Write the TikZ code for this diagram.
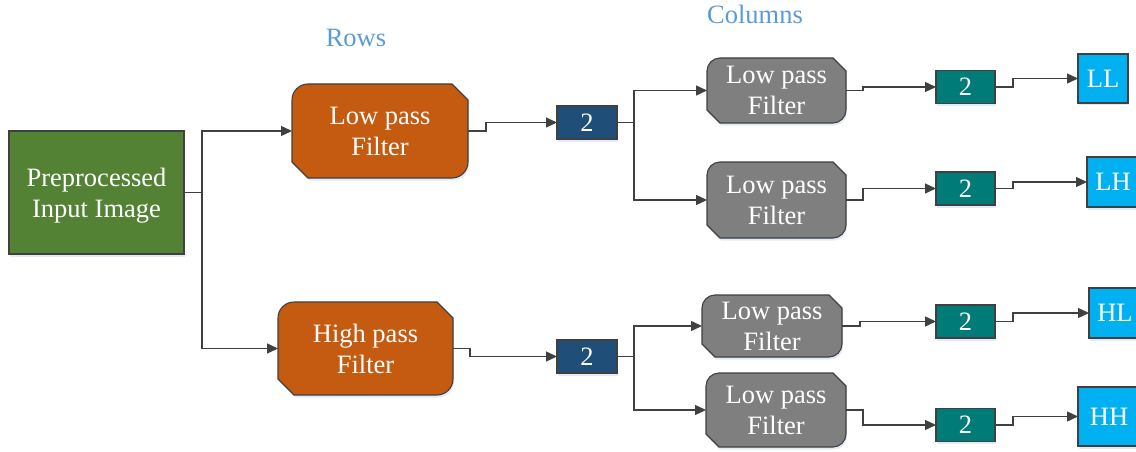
\documentclass[tikz,border=0pt]{standalone}
\usepackage{fontspec}
\setmainfont{Liberation Serif}
\usetikzlibrary{arrows.meta,shadows,calc}

\definecolor{lineGray}{HTML}{404040}
\definecolor{imgGreen}{HTML}{548235}
\definecolor{rowOrange}{HTML}{C55A11}
\definecolor{downBlue}{HTML}{1F4E79}
\definecolor{colGray}{HTML}{7F7F7F}
\definecolor{downTeal}{HTML}{007B78}
\definecolor{bandCyan}{HTML}{00B0F0}
\definecolor{labelBlue}{HTML}{5B9BD5}
\definecolor{shadowBlue}{HTML}{D6E3F3}

\tikzset{
  boxshadow/.style={drop shadow={shadow xshift=1pt,shadow yshift=-2.5pt,fill=shadowBlue,opacity=0.7}},
  plainbox/.style={rectangle,draw=lineGray,line width=1.1pt,inner sep=0pt,outer sep=0pt,
    text=white,font=\fontsize{26.5}{31}\selectfont,align=center,boxshadow},
  filtoutline/.style={draw=lineGray,line width=1.1pt,boxshadow},
  filttext/.style={rectangle,inner sep=0pt,outer sep=0pt,text=white,
    font=\fontsize{26.5}{31}\selectfont,align=center},
  wire/.style={draw=lineGray,line width=1.4pt},
  arrowwire/.style={wire,-{Triangle[length=11pt,width=10pt]}},
  headlabel/.style={text=labelBlue,font=\fontsize{26.5}{31}\selectfont,inner sep=0pt}
}

% filter block: top-left and bottom-right rounded, the other two corners cut
% #1 name, #2 x, #3 y, #4 width, #5 height, #6 corner size, #7 fill, #8 text
\newcommand\filterblock[8]{%
  \begin{scope}[shift={(#2,#3)}]
    \pgfmathsetmacro\hw{#4/2}\pgfmathsetmacro\hh{#5/2}%
    \pgfmathsetmacro\kk{0.45*#6}%
    \path[filtoutline,fill=#7]
      (-\hw,\hh-#6) -- (-\hw,-\hh+#6)
      .. controls (-\hw,-\hh+\kk) and (-\hw+\kk,-\hh) .. (-\hw+#6,-\hh)
      -- (\hw-#6,-\hh) -- (\hw,-\hh+#6) -- (\hw,\hh-#6)
      .. controls (\hw,\hh-\kk) and (\hw-\kk,\hh) .. (\hw-#6,\hh)
      -- (-\hw+#6,\hh) -- cycle;
  \end{scope}
  \node[filttext,minimum width=#4pt,minimum height=#5pt] (#1) at (#2,#3) {#8};
}

\begin{document}
\begin{tikzpicture}[x=1pt,y=-1pt]
\useasboundingbox (0,0) rectangle (1136,452);

% headings
\node[headlabel] (rows) at (356,38) {Rows};
\node[headlabel] (cols) at (755,14) {Columns};

% input image
\node[plainbox,fill=imgGreen,minimum width=175pt,minimum height=123pt] (img) at (96.5,192.5)
  {\raisebox{-3pt}[\height][\depth]{\begin{tabular}{@{}c@{}}Preprocessed\\Input Image\end{tabular}}};

% row filters
\filterblock{rlow}{380}{131}{176}{94}{16}{rowOrange}{Low pass\\Filter}
\filterblock{rhigh}{365.5}{348.5}{175}{93}{16}{rowOrange}{High pass\\Filter}

% row downsamplers
\node[plainbox,fill=downBlue,minimum width=60pt,minimum height=33pt] (dr1) at (587,122.5) {2};
\node[plainbox,fill=downBlue,minimum width=60pt,minimum height=33pt] (dr2) at (587,356.5) {2};

% column filters
\filterblock{c1}{776.5}{90.5}{139}{65}{13}{colGray}{Low pass\\Filter}
\filterblock{c2}{776.5}{200}{139}{76}{13}{colGray}{Low pass\\Filter}
\filterblock{c3}{772}{326}{140}{62}{13}{colGray}{Low pass\\Filter}
\filterblock{c4}{776}{410}{140}{74}{13}{colGray}{Low pass\\Filter}

% column downsamplers
\node[plainbox,fill=downTeal,minimum width=59pt,minimum height=33pt] (dc1) at (965.5,87) {2};
\node[plainbox,fill=downTeal,minimum width=59pt,minimum height=33pt] (dc2) at (965.5,188.5) {2};
\node[plainbox,fill=downTeal,minimum width=59pt,minimum height=33pt] (dc3) at (965.5,321.5) {2};
\node[plainbox,fill=downTeal,minimum width=59pt,minimum height=33pt] (dc4) at (965.5,425) {2};

% sub-bands
\node[plainbox,fill=bandCyan,minimum width=50pt,minimum height=49pt] (LL) at (1103,78.5) {LL};
\node[plainbox,fill=bandCyan,minimum width=52pt,minimum height=50pt] (LH) at (1113,182) {LH};
\node[plainbox,fill=bandCyan,minimum width=52pt,minimum height=50pt] (HL) at (1115,313) {HL};
\node[plainbox,fill=bandCyan,minimum width=62pt,minimum height=59pt] (HH) at (1109,416.5) {HH};

% image to row filters
\coordinate (sp0) at (202,192.5);
\draw[wire] (img.east) -- (sp0);
\draw[arrowwire] (sp0) |- (rlow.west);
\draw[arrowwire] (sp0) |- (rhigh.west);

% row filters to downsamplers
\draw[arrowwire] (rlow.east) -- ++(18,0) |- (dr1.west);
\draw[arrowwire] (rhigh.east) -- ++(17,0) |- (dr2.west);

% downsamplers to column filters
\draw[wire] (dr1.east) -- ++(17,0) coordinate (sp1);
\draw[arrowwire] (sp1) |- (c1.west);
\draw[arrowwire] (sp1) |- (c2.west);
\draw[wire] (dr2.east) -- ++(17,0) coordinate (sp2);
\draw[arrowwire] (sp2) |- (c3.west);
\draw[arrowwire] (sp2) |- (c4.west);

% column filters to downsamplers
\draw[arrowwire] (c1.east) -- ++(17,0) |- (dc1.west);
\draw[arrowwire] (c2.east) -- ++(17,0) |- (dc2.west);
\draw[arrowwire] (c3.east) -- ++(18,0) |- (dc3.west);
\draw[arrowwire] (c4.east) -- ++(17,0) |- (dc4.west);

% downsamplers to sub-bands
\draw[arrowwire] (dc1.east) -- ++(18,0) |- (LL.west);
\draw[arrowwire] (dc2.east) -- ++(18,0) |- (LH.west);
\draw[arrowwire] (dc3.east) -- ++(18,0) |- (HL.west);
\draw[arrowwire] (dc4.east) -- ++(18,0) |- (HH.west);
\end{tikzpicture}
\end{document}
